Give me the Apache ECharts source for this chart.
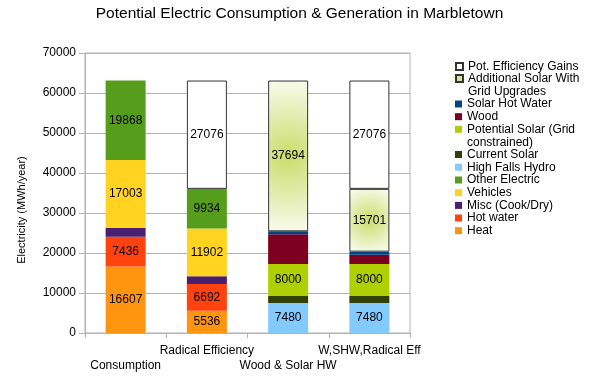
<!DOCTYPE html>
<html><head><meta charset="utf-8">
<script src="https://cdn.jsdelivr.net/npm/echarts@6/dist/echarts.min.js"></script>
<style>html,body{margin:0;padding:0;background:#fff}#c{width:599px;height:382px}</style>
</head><body><div id="c"></div>
<script>
// ---- data ----
const categories = ['Consumption', 'Radical Efficiency', 'Wood & Solar HW', 'W,SHW,Radical Eff'];
const heat            = [16607, 5536, null, null];
const hotWater        = [7436, 6692, null, null];
const miscCookDry     = [2200, 1974, null, null];
const vehicles        = [17003, 11902, null, null];
const otherElectric   = [19868, 9934, null, null];
const highFallsHydro  = [null, null, 7480, 7480];
const currentSolar    = [null, null, 1800, 1800];
const potentialSolar  = [null, null, 8000, 8000];
const wood            = [null, null, 7390, 2307];
const solarHotWater   = [null, null, 750, 750];
const additionalSolar = [null, null, 37694, 15701];
const efficiencyGains = [null, 27076, null, 27076];
const yTicks = [0, 10000, 20000, 30000, 40000, 50000, 60000, 70000];

const FONT = '"Liberation Sans", Arial, sans-serif';

// series in stacking order (bottom to top)
const seriesDefs = [
  {name: 'Heat', data: heat, color: '#ff950e', label: true},
  {name: 'Hot water', data: hotWater, color: '#ff420e', label: true},
  {name: 'Misc (Cook/Dry)', data: miscCookDry, color: '#4b1f6f', label: false},
  {name: 'Vehicles', data: vehicles, color: '#ffd320', label: true},
  {name: 'Other Electric', data: otherElectric, color: '#579d1c', label: true},
  {name: 'High Falls Hydro', data: highFallsHydro, color: '#83caff', label: true},
  {name: 'Current Solar', data: currentSolar, color: '#314004', label: false},
  {name: 'Potential Solar (Grid constrained)', data: potentialSolar, color: '#aecf00', label: true},
  {name: 'Wood', data: wood, color: '#7e0021', label: false},
  {name: 'Solar Hot Water', data: solarHotWater, color: '#004586', label: false},
  {name: 'Additional Solar With Grid Upgrades', data: additionalSolar, color: '#d5e48f', label: true, border: true, gradient: true},
  {name: 'Pot. Efficiency Gains', data: efficiencyGains, color: '#ffffff', label: true, border: true}
];

const gradR = {2: 2.0, 3: 0.9};
function gradient(r) {
  return {type: 'radial', x: 0.5, y: 0.5, r: r,
    colorStops: [{offset: 0, color: '#cadd6a'}, {offset: 1, color: '#fbfcf3'}]};
}

const series = seriesDefs.map(d => ({
  name: d.name,
  type: 'bar',
  stack: 'total',
  barWidth: 40,
  animation: false,
  itemStyle: Object.assign({color: d.color},
    d.border ? {borderColor: '#333333', borderWidth: 1} : {}),
  emphasis: {disabled: true},
  label: {
    show: d.label, position: 'inside', color: '#000', fontSize: 12,
    fontFamily: FONT, textBorderWidth: 0
  },
  data: d.gradient
    ? d.data.map((v, i) => v == null ? null : {value: v, itemStyle: {color: gradient(gradR[i] || 1)}})
    : d.data
}));

// legend (top to bottom)
const legendOrder = seriesDefs.map(d => d.name).reverse();
const legendText = {
  'Additional Solar With Grid Upgrades': ' \nAdditional Solar With\nGrid Upgrades',
  'Potential Solar (Grid constrained)': ' \nPotential Solar (Grid\nconstrained)'
};
const legendCenters = [66.5, 78.5, 104, 116.7, 129.3, 154.5, 167.2, 180, 192.7, 205.4, 218, 230.7];
const legends = legendOrder.map((n, i) => ({
  data: [n],
  orient: 'vertical',
  left: 455,
  top: legendCenters[i] - (legendText[n] ? 19.5 : 6.5),
  padding: 0,
  itemGap: 0,
  itemWidth: 7,
  itemHeight: 7,
  icon: 'rect',
  selectedMode: false,
  formatter: name => legendText[name] || name,
  textStyle: {fontSize: 12, color: '#000', fontFamily: FONT, lineHeight: 13}
}));

const chart = echarts.init(document.getElementById('c'), null, {renderer: 'canvas'});
chart.setOption({
  animation: false,
  backgroundColor: '#ffffff',
  title: {
    text: 'Potential Electric Consumption & Generation in Marbletown',
    left: 'center', top: 6, padding: 0,
    textStyle: {fontSize: 15.5, fontWeight: 'normal', color: '#000', fontFamily: FONT}
  },
  legend: legends,
  grid: {left: 85, right: 189, top: 53, bottom: 49, show: true,
    borderColor: '#b3b3b3', borderWidth: 1, backgroundColor: 'transparent'},
  xAxis: {
    type: 'category',
    data: categories,
    axisLine: {lineStyle: {color: '#b3b3b3'}},
    axisTick: {show: true, length: 5, lineStyle: {color: '#b3b3b3'}},
    axisLabel: {
      interval: 0, margin: 10, lineHeight: 15, fontSize: 12, color: '#000', fontFamily: FONT,
      formatter: (v, i) => (i % 2 === 0 ? '\n' + v : v)
    }
  },
  yAxis: {
    type: 'value',
    min: yTicks[0], max: yTicks[yTicks.length - 1], interval: yTicks[1] - yTicks[0],
    name: 'Electricity (MWh/year)',
    nameLocation: 'middle', nameGap: 58, nameRotate: 90,
    nameTextStyle: {fontSize: 11, color: '#000', fontFamily: FONT, padding: [0, 34, 0, 0]},
    axisLine: {show: true, lineStyle: {color: '#b3b3b3'}},
    axisTick: {show: true, length: 6, lineStyle: {color: '#b3b3b3'}},
    splitLine: {show: true, lineStyle: {color: '#b3b3b3'}},
    axisLabel: {margin: 9, fontSize: 12, color: '#000', fontFamily: FONT, formatter: v => String(v)}
  },
  series: series
});
</script>
</body></html>
